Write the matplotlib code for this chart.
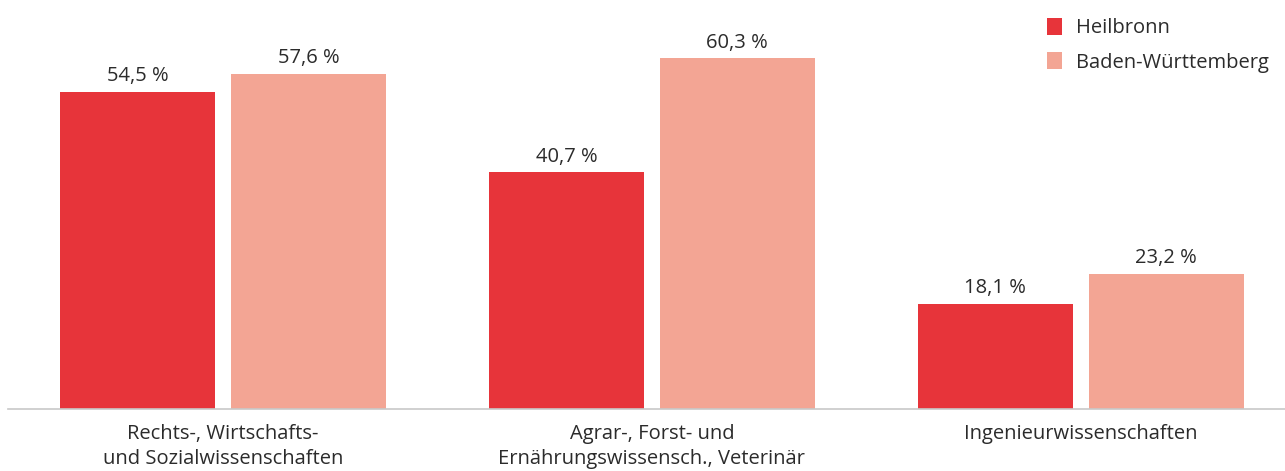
import matplotlib
matplotlib.use("Agg")
import matplotlib.pyplot as plt
import numpy as np

categories = ["Rechts-, Wirtschafts-\nund Sozialwissenschaften",
              "Agrar-, Forst- und\nErnährungswissensch., Veterinär",
              "Ingenieurwissenschaften"]
heilbronn = [54.5, 40.7, 18.1]
bawue = [57.6, 60.3, 23.2]
series_names = ["Heilbronn", "Baden-Württemberg"]
colors = ["#E7343A", "#F3A594"]

plt.rcParams['font.family'] = ['Open Sans', 'DejaVu Sans']

fig = plt.figure(figsize=(12.85, 4.71), dpi=100)
ax = fig.add_axes([8 / 1285, 62 / 471, 1277 / 1285, 409 / 471])

x = np.arange(len(categories))
width = 0.361
off = 0.1993

rects1 = ax.bar(x - off, heilbronn, width, color=colors[0], label=series_names[0])
rects2 = ax.bar(x + off, bawue, width, color=colors[1], label=series_names[1])


def autolabel(rects):
    for rect in rects:
        h = rect.get_height()
        ax.annotate(f"{h:.1f} %".replace(".", ","),
                    xy=(rect.get_x() + rect.get_width() / 2, h),
                    xytext=(0, 4), textcoords="offset points",
                    ha="center", va="bottom", fontsize=14.5, color="#2b2b2b")


autolabel(rects1)
autolabel(rects2)

ax.set_xlim(-0.501, 2.476)
ax.set_ylim(0, 70.3)
ax.set_xticks(x)
ax.set_xticklabels(categories, fontsize=14.5, color="#2b2b2b", linespacing=1.3)
ax.tick_params(axis="x", length=0, pad=11)
ax.set_yticks([])
for s in ["top", "right", "left"]:
    ax.spines[s].set_visible(False)
ax.spines["bottom"].set_color("#c8c8c8")
ax.spines["bottom"].set_linewidth(1.2)

leg = fig.legend(loc="upper left", bbox_to_anchor=(1039 / 1285, 1 - 10 / 471),
                 frameon=False, fontsize=14.5, handlelength=0.75, handleheight=0.9,
                 handletextpad=0.7, labelspacing=0.7, borderaxespad=0)
for t in leg.get_texts():
    t.set_color("#2b2b2b")

fig.savefig("out.png", dpi=100)
